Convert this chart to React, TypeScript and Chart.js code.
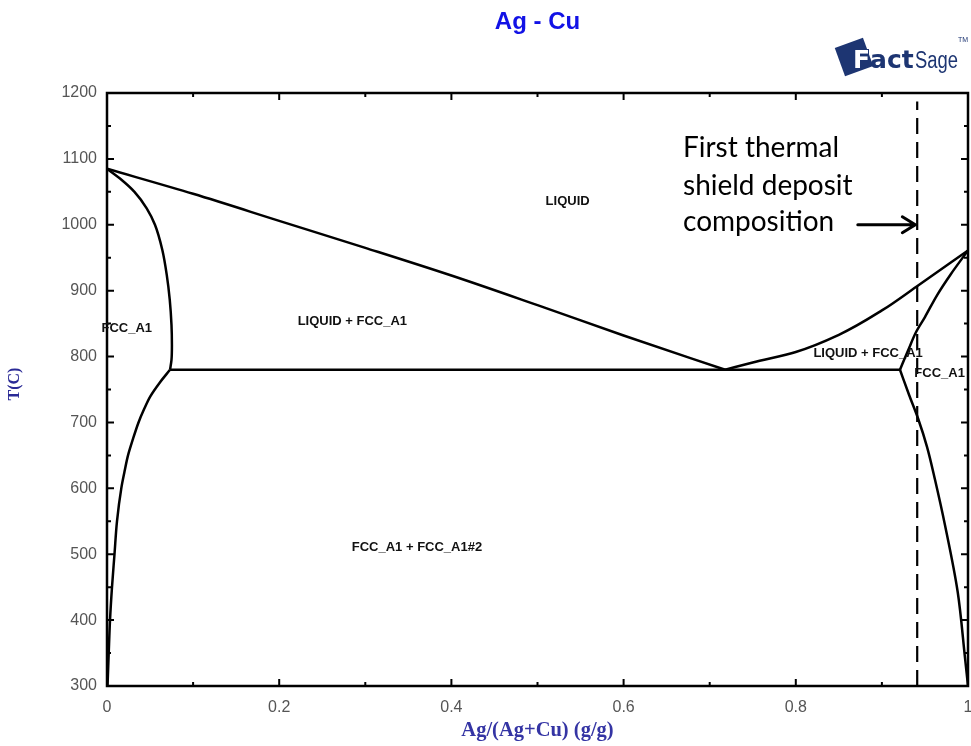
import React, { useEffect, useRef } from 'react';
import { Chart, registerables } from 'chart.js';

Chart.register(...registerables);

// ---- axis ticks ----
const xTickValues = [0, 0.2, 0.4, 0.6, 0.8, 1];
const xTickLabels = ['0', '0.2', '0.4', '0.6', '0.8', '1'];
const xMinorTickValues = [0.1, 0.3, 0.5, 0.7, 0.9];
const yTickValues = [300, 400, 500, 600, 700, 800, 900, 1000, 1100, 1200];
const yTickLabels = ['300', '400', '500', '600', '700', '800', '900', '1000', '1100', '1200'];
const yMinorTickValues = [350, 450, 550, 650, 750, 850, 950, 1050, 1150];

// ---- phase boundaries (x = Ag mass fraction, T in C) ----
const leftLiquidusX = [0, 0.1, 0.2, 0.3, 0.4, 0.5, 0.6, 0.718];
const leftLiquidusT = [1085, 1047, 1006, 965, 923, 878, 832, 780];

const leftSolidusX = [0, 0.0171, 0.0319, 0.0461, 0.0557, 0.0642, 0.0694, 0.0729, 0.0749, 0.0754, 0.0749, 0.0732];
const leftSolidusT = [1085, 1068, 1050, 1025, 1000, 962, 924, 886, 848, 818, 795, 780];

const leftSolvusX = [0.0732, 0.061, 0.0505, 0.043, 0.0366, 0.0302, 0.0244, 0.0203, 0.0166, 0.0116, 0.0087, 0.0058, 0.0035, 0.002, 0.0006];
const leftSolvusT = [780, 760, 740, 720, 700, 675, 650, 625, 600, 550, 500, 450, 400, 350, 300];

const eutecticX = [0.0732, 0.921];
const eutecticT = [780, 780];

const rightLiquidusX = [0.718, 0.75, 0.8, 0.85, 0.9, 0.94, 1];
const rightLiquidusT = [780, 791, 807, 833, 870, 906, 961];

const rightSolidusX = [0.921, 0.93, 0.94, 0.95, 0.964, 0.98, 1];
const rightSolidusT = [780, 808, 838, 860, 893, 925, 961];

const rightSolvusX = [0.921, 0.9315, 0.942, 0.9524, 0.9617, 0.9733, 0.988, 0.9965, 1];
const rightSolvusT = [780, 742, 706, 663, 613, 544, 443, 343, 300];

const depositX = [0.941, 0.941];
const depositT = [300, 1187];

// ---- annotations ----
const regionLabels = ['LIQUID', 'LIQUID + FCC_A1', 'FCC_A1', 'LIQUID + FCC_A1', 'FCC_A1', 'FCC_A1 + FCC_A1#2'];
const regionLabelX = [0.535, 0.285, 0.023, 0.884, 0.967, 0.36];
const regionLabelT = [1036, 854, 842, 805, 774, 510];

const noteLines = ['First thermal', 'shield deposit', 'composition'];
const noteX = 0.669;
const noteT = [1117, 1059, 1004];
const arrowFromX = 0.872;
const arrowToX = 0.94;
const arrowT = 1000;

const SANS = '"Liberation Sans", Arial, sans-serif';
const SERIF = '"Liberation Serif", "Times New Roman", serif';

function pts(xs: number[], ts: number[]) {
  return xs.map((x, i) => ({ x, y: ts[i] }));
}

const decorPlugin = {
  id: 'decor',
  afterDatasetsDraw(chart: any) {
    const { ctx, chartArea: a, scales } = chart;
    const xs = scales.x;
    const ys = scales.y;
    ctx.save();

    // frame
    ctx.strokeStyle = '#000';
    ctx.lineWidth = 2.5;
    ctx.strokeRect(a.left, a.top, a.right - a.left, a.bottom - a.top);

    // inward ticks
    ctx.lineWidth = 2;
    const xt = (v: number, len: number) => {
      const p = xs.getPixelForValue(v);
      ctx.beginPath();
      ctx.moveTo(p, a.bottom);
      ctx.lineTo(p, a.bottom - len);
      ctx.moveTo(p, a.top);
      ctx.lineTo(p, a.top + len);
      ctx.stroke();
    };
    const yt = (v: number, len: number) => {
      const p = ys.getPixelForValue(v);
      ctx.beginPath();
      ctx.moveTo(a.left, p);
      ctx.lineTo(a.left + len, p);
      ctx.moveTo(a.right, p);
      ctx.lineTo(a.right - len, p);
      ctx.stroke();
    };
    xTickValues.forEach((v) => xt(v, 7));
    xMinorTickValues.forEach((v) => xt(v, 4));
    yTickValues.forEach((v) => yt(v, 7));
    yMinorTickValues.forEach((v) => yt(v, 4));

    // region labels
    ctx.fillStyle = '#111';
    ctx.font = `bold 13px ${SANS}`;
    ctx.textAlign = 'center';
    ctx.textBaseline = 'middle';
    regionLabels.forEach((t, i) => {
      ctx.fillText(t, xs.getPixelForValue(regionLabelX[i]), ys.getPixelForValue(regionLabelT[i]));
    });

    // note text
    ctx.font = `28px Lato, "Open Sans", sans-serif`;
    ctx.textAlign = 'left';
    ctx.fillStyle = '#000';
    noteLines.forEach((t, i) => {
      ctx.fillText(t, xs.getPixelForValue(noteX), ys.getPixelForValue(noteT[i]));
    });

    // arrow
    const ax0 = xs.getPixelForValue(arrowFromX);
    const ax1 = xs.getPixelForValue(arrowToX);
    const ay = ys.getPixelForValue(arrowT);
    ctx.lineWidth = 3;
    ctx.lineCap = 'round';
    ctx.beginPath();
    ctx.moveTo(ax0, ay);
    ctx.lineTo(ax1 - 2, ay);
    ctx.moveTo(ax1 - 14, ay - 8);
    ctx.lineTo(ax1 - 1, ay);
    ctx.lineTo(ax1 - 14, ay + 8);
    ctx.stroke();

    // title
    ctx.fillStyle = '#1212e6';
    ctx.font = `bold 24px ${SANS}`;
    ctx.textAlign = 'center';
    ctx.fillText('Ag - Cu', (a.left + a.right) / 2, 22);

    // y axis title
    ctx.save();
    ctx.translate(15, 384);
    ctx.rotate(-Math.PI / 2);
    ctx.fillStyle = '#2a2a96';
    ctx.font = `bold 16px ${SERIF}`;
    ctx.fillText('T(C)', 0, 0);
    ctx.restore();

    // FactSage logo
    ctx.save();
    ctx.translate(854, 57);
    ctx.rotate(-0.35);
    ctx.fillStyle = '#1d3572';
    ctx.fillRect(-15, -15, 30, 30);
    ctx.restore();
    ctx.textAlign = 'left';
    ctx.textBaseline = 'alphabetic';
    ctx.font = `bold 25px "DejaVu Sans", sans-serif`;
    ctx.lineWidth = 2;
    ctx.strokeStyle = '#1d3572';
    ctx.fillStyle = '#ffffff';
    ctx.strokeText('F', 853, 68);
    ctx.fillText('F', 853, 68);
    const fw = ctx.measureText('F').width;
    ctx.fillStyle = '#1d3572';
    ctx.fillText('act', 853 + fw, 68);
    ctx.save();
    ctx.translate(915, 68);
    ctx.scale(0.8, 1);
    ctx.font = `23px ${SANS}`;
    ctx.fillText('Sage', 0, 0);
    ctx.restore();
    ctx.font = `7px ${SANS}`;
    ctx.fillText('TM', 958, 42);

    ctx.restore();
  },
};

export default function App() {
  const ref = useRef<HTMLCanvasElement | null>(null);

  useEffect(() => {
    document.body.style.margin = '0';
    const canvas = ref.current;
    if (!canvas) return;
    const curve = (xs: number[], ts: number[]) => ({
      data: pts(xs, ts),
      borderColor: '#000',
      borderWidth: 2.5,
      pointRadius: 0,
      indexAxis: 'y',
      cubicInterpolationMode: 'monotone',
      fill: false,
    });
    const straight = (xs: number[], ts: number[]) => ({
      data: pts(xs, ts),
      borderColor: '#000',
      borderWidth: 2.5,
      pointRadius: 0,
      tension: 0,
      fill: false,
    });
    const chart = new Chart(canvas, {
      type: 'line',
      data: {
        datasets: [
          curve(leftLiquidusX, leftLiquidusT),
          curve(leftSolidusX, leftSolidusT),
          curve(leftSolvusX, leftSolvusT),
          straight(eutecticX, eutecticT),
          curve(rightLiquidusX, rightLiquidusT),
          curve(rightSolidusX, rightSolidusT),
          curve(rightSolvusX, rightSolvusT),
          { ...straight(depositX, depositT), borderWidth: 2.2, borderDash: [16, 8] },
        ] as any,
      },
      options: {
        responsive: false,
        animation: false,
        events: [],
        layout: { padding: { top: 93, right: 3, left: 0, bottom: 0 } },
        plugins: { legend: { display: false }, title: { display: false }, tooltip: { enabled: false } },
        scales: {
          x: {
            type: 'linear',
            min: 0,
            max: 1,
            grid: { display: false, drawTicks: false },
            border: { display: false },
            afterBuildTicks: (s: any) => {
              s.ticks = xTickValues.map((v) => ({ value: v }));
            },
            afterFit: (s: any) => {
              s.height = 60;
              s.paddingLeft = 0;
              s.paddingRight = 0;
            },
            ticks: {
              autoSkip: false,
              maxRotation: 0,
              padding: 12,
              color: '#555',
              font: { family: SANS, size: 16 },
              callback: (v: any) => xTickLabels[xTickValues.indexOf(Number(v))] ?? '',
            },
            title: {
              display: true,
              text: 'Ag/(Ag+Cu) (g/g)',
              color: '#3434a4',
              font: { family: SERIF, size: 20.5, weight: 'bold' },
              padding: { top: 0, bottom: 3 },
            },
          },
          y: {
            type: 'linear',
            min: 300,
            max: 1200,
            grid: { display: false, drawTicks: false },
            border: { display: false },
            afterBuildTicks: (s: any) => {
              s.ticks = yTickValues.map((v) => ({ value: v }));
            },
            afterFit: (s: any) => {
              s.width = 107;
              s.paddingTop = 0;
              s.paddingBottom = 0;
            },
            ticks: {
              autoSkip: false,
              padding: 10,
              color: '#555',
              font: { family: SANS, size: 16 },
              callback: (v: any) => yTickLabels[yTickValues.indexOf(Number(v))] ?? '',
            },
            title: { display: false },
          },
        },
      } as any,
      plugins: [decorPlugin],
    });
    return () => chart.destroy();
  }, []);

  return <canvas ref={ref} width={971} height={746} style={{ display: 'block' }} />;
}
